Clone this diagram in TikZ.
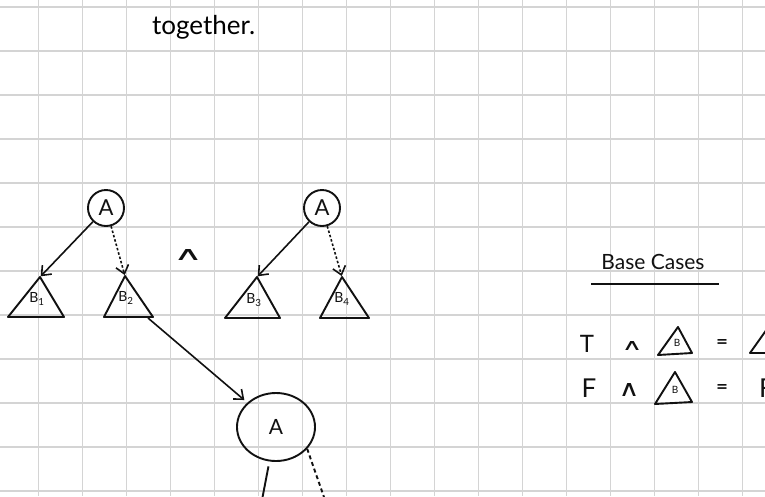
\documentclass[tikz,border=0pt]{standalone}
\usepackage{graphicx}
\usepackage{fontspec}
\setmainfont{Lato}
\newfontfamily\symfont{DejaVu Sans}
\usetikzlibrary{arrows.meta,shapes.geometric}
\definecolor{gridgray}{HTML}{D4D4D4}
\definecolor{ink}{HTML}{111111}
\newcommand{\handand}[2]{\resizebox{#1}{#2}{\symfont ∧}}
\newcommand{\handeq}{\resizebox{12pt}{7pt}{\symfont\bfseries =}}
\tikzset{
  gridline/.style={draw=gridgray, line width=1.3pt},
  anode/.style={circle, draw=ink, line width=1.9pt, minimum size=36pt, inner sep=0pt,
                text=ink, font=\fontsize{22}{22}\selectfont},
  bignode/.style={ellipse, draw=ink, line width=1.9pt, minimum width=78pt,
                  minimum height=68pt, inner sep=0pt, text=ink, font=\fontsize{21}{21}\selectfont},
  tri/.style={draw=ink, line width=1.9pt, line join=round},
  lbl/.style={inner sep=0pt, text=ink, font=\fontsize{14}{14}\selectfont},
  hand/.style={inner sep=0pt, text=ink, font=\fontsize{24}{24}\selectfont},
  arr/.style={-{Straight Barb[length=8pt,width=13pt]}, line width=1.6pt, draw=ink},
  darr/.style={arr, dash pattern=on 2.5pt off 2pt}}

\begin{document}
\begin{tikzpicture}[x=1pt, y=-1pt]
  \useasboundingbox (0,0) rectangle (765,496);
  \clip (0,0) rectangle (765,496);
  \fill[white] (0,0) rectangle (765,496);
  % squared paper
  \foreach \gx in {0,...,16} \draw[gridline] (38.4+44*\gx,0) -- ++(0,496);
  \foreach \gy in {0,...,11} \draw[gridline] (0,7+44*\gy) -- ++(765,0);
  \node[anchor=base west, inner sep=0pt, font=\fontsize{26}{26}\selectfont] (together) at (152,34) {together.};

  % first tree
  \node[anode] (a1) at (106,208) {A};
  \coordinate (b1) at (40,277);
  \draw[tri] (b1) -- (64,317) -- (8,317) -- cycle;
  \node[lbl] (b1lbl) at (37,299) {B\textsubscript{1}};
  \coordinate (b2) at (125,276);
  \draw[tri] (b2) -- (153,317) -- (104,317) -- cycle;
  \node[lbl] (b2lbl) at (126,298) {B\textsubscript{2}};
  \draw[arr, shorten >=1pt] (a1) -- (b1);
  \draw[darr, shorten >=1pt] (a1) -- (b2);

  \node[hand] (and1) at (188,255) {\handand{30pt}{11pt}};

  % second tree
  \node[anode] (a2) at (322,208) {A};
  \coordinate (b3) at (257,277);
  \draw[tri] (b3) -- (280,318) -- (225,318) -- cycle;
  \node[lbl] (b3lbl) at (254,300) {B\textsubscript{3}};
  \coordinate (b4) at (342,277);
  \draw[tri] (b4) -- (369,318) -- (320,318) -- cycle;
  \node[lbl] (b4lbl) at (342,299) {B\textsubscript{4}};
  \draw[arr, shorten >=1pt] (a2) -- (b3);
  \draw[darr, shorten >=1pt] (a2) -- (b4);

  % B2 expanded
  \coordinate (b2foot) at (148,318);
  \node[bignode] (a3) at (276,427) {A};
  \draw[arr, shorten >=4pt] (b2foot) -- (a3);
  \coordinate (c1) at (262,500);
  \coordinate (c2) at (325,500);
  \draw[tri, shorten <=5pt] (a3) -- (c1);
  \draw[tri, dash pattern=on 4pt off 3pt] (a3.-35) -- (c2);

  % base cases
  \node[hand, font=\fontsize{21}{21}\selectfont] (basecases) at (653,262) {Base Cases};
  \draw[tri] (591,284) -- (719,284);

  \node[hand] (tval) at (587,344) {T};
  \node[hand] (and2) at (632,346) {\handand{21pt}{9pt}};
  \coordinate (tb) at (678,327);
  \draw[tri] (tb) -- (692,353) -- (658,355) -- cycle;
  \node[lbl, font=\fontsize{10}{10}\selectfont] (tblbl) at (677,343) {B};
  \node[hand] (eq1) at (722,343) {\handeq};
  \coordinate (tres) at (772,322);
  \draw[tri] (tres) -- (794,353) -- (750,353) -- cycle;

  \node[hand, font=\fontsize{26}{26}\selectfont] (fval) at (589,388) {F};
  \node[hand] (and3) at (629,390) {\handand{21pt}{13pt}};
  \coordinate (fb) at (675,372);
  \draw[tri] (fb) -- (692,402) -- (655,404) -- cycle;
  \node[lbl, font=\fontsize{10}{10}\selectfont] (fblbl) at (675,390) {B};
  \node[hand] (eq2) at (722,388) {\handeq};
  \node[hand, anchor=west, font=\fontsize{26}{26}\selectfont] (fres) at (759,388) {F};
\end{tikzpicture}
\end{document}
